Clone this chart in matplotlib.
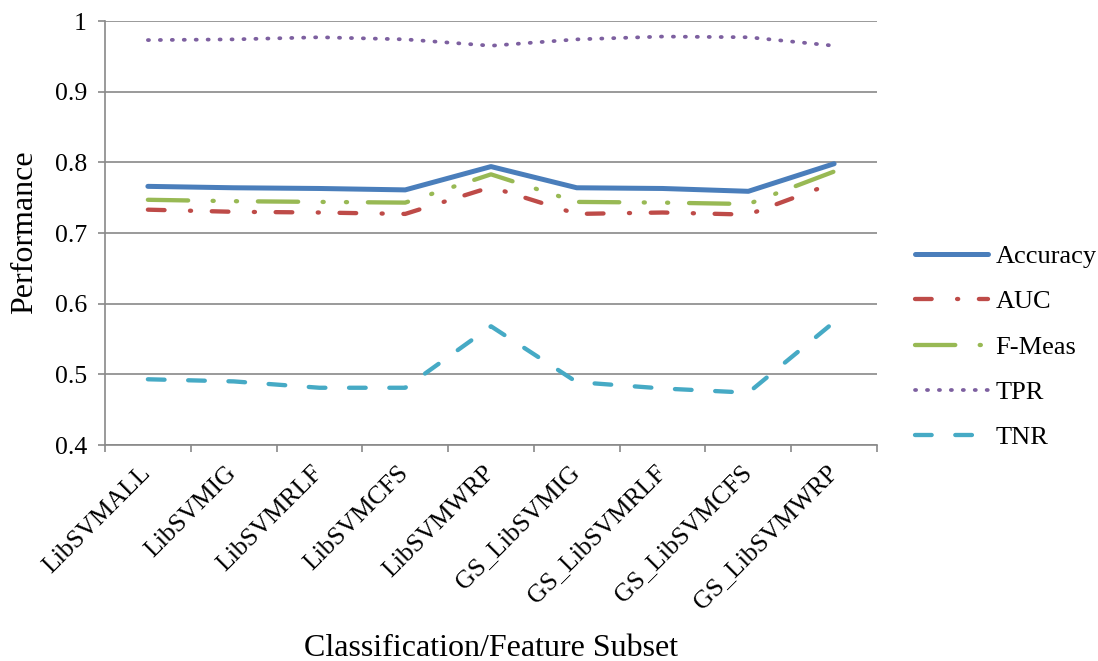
import matplotlib
matplotlib.use("Agg")
import matplotlib.pyplot as plt
import matplotlib.transforms as mtransforms
import numpy as np

categories = ["LibSVMALL", "LibSVMIG", "LibSVMRLF", "LibSVMCFS", "LibSVMWRP",
              "GS_LibSVMIG", "GS_LibSVMRLF", "GS_LibSVMCFS", "GS_LibSVMWRP"]
accuracy = [0.766, 0.764, 0.763, 0.761, 0.794, 0.764, 0.763, 0.759, 0.798]
auc      = [0.733, 0.730, 0.729, 0.727, 0.765, 0.727, 0.729, 0.726, 0.771]
fmeas    = [0.747, 0.745, 0.744, 0.743, 0.783, 0.744, 0.743, 0.741, 0.787]
tpr      = [0.973, 0.974, 0.977, 0.974, 0.965, 0.974, 0.978, 0.977, 0.965]
tnr      = [0.493, 0.490, 0.481, 0.481, 0.568, 0.489, 0.480, 0.474, 0.574]
y_ticks  = [0.4, 0.5, 0.6, 0.7, 0.8, 0.9, 1.0]
y_tick_labels = ["0.4", "0.5", "0.6", "0.7", "0.8", "0.9", "1"]

plt.rcParams['font.family'] = ['Liberation Serif', 'DejaVu Serif']
plt.rcParams['lines.scale_dashes'] = False

fig = plt.figure(figsize=(10.98, 6.61), dpi=100)
ax = fig.add_axes([105/1098, 1-445/661, (877-105)/1098, (445-21)/661])

x = np.arange(len(categories))
grid_c = "#898989"

series = [
    ("Accuracy", accuracy, "#4A7EBB", 3.6, None),
    ("AUC", auc, "#BE4B48", 3.1, (0, (12, 18.3, 0.8, 14.9))),
    ("F-Meas", fmeas, "#98B954", 3.1, (0, (29, 17.6, 0.8, 16.0, 0.8, 15.0))),
    ("TPR", tpr, "#7D60A0", 2.7, (0, (0.8, 7.8))),
    ("TNR", tnr, "#46AAC5", 3.1, (0, (12, 17))),
]
for name, vals, col, lw, ls in series:
    kw = dict(color=col, lw=lw, solid_capstyle='round', dash_capstyle='round',
              solid_joinstyle='round', label=name, zorder=3)
    if ls is not None:
        kw['linestyle'] = ls
    ax.plot(x, vals, **kw)

ax.set_xlim(-0.5, len(categories) - 0.5)
ax.set_ylim(0.4, 1.0)
ax.set_yticks(y_ticks)
ax.set_yticklabels(y_tick_labels, fontsize=18.5)
ax.yaxis.grid(True, color=grid_c, lw=1.2, zorder=0)
ax.set_axisbelow(True)

ax.set_xticks(x)
ax.set_xticklabels(categories, rotation=45, ha='right', va='top',
                   rotation_mode='anchor', fontsize=18.5)
ax.tick_params(axis='x', which='major', length=0, pad=12)
offset = mtransforms.ScaledTranslation(-8/100, 0, fig.dpi_scale_trans)
for lbl in ax.get_xticklabels():
    lbl.set_transform(lbl.get_transform() + offset)
ax.set_xticks(np.arange(-0.5, len(categories)), minor=True)
ax.tick_params(axis='x', which='minor', length=5, width=1.2, color=grid_c)
ax.tick_params(axis='y', length=5, width=1.2, color=grid_c, pad=8)

for s in ['top', 'right']:
    ax.spines[s].set_visible(False)
for s in ['left', 'bottom']:
    ax.spines[s].set_color(grid_c)
    ax.spines[s].set_linewidth(1.2)

fig.text(25/1098, 1-232/661, "Performance", fontsize=23, rotation=90,
         ha='center', va='center')
fig.text(491/1098, 1-648/661, "Classification/Feature Subset", fontsize=23,
         ha='center', va='center')

leg = fig.legend(loc='center left', bbox_to_anchor=(915/1098, 1-347/661),
                 frameon=False, fontsize=19, handlelength=2.75,
                 handletextpad=0.3, labelspacing=0.83, borderpad=0,
                 borderaxespad=0)

fig.savefig("out.png", dpi=100)
